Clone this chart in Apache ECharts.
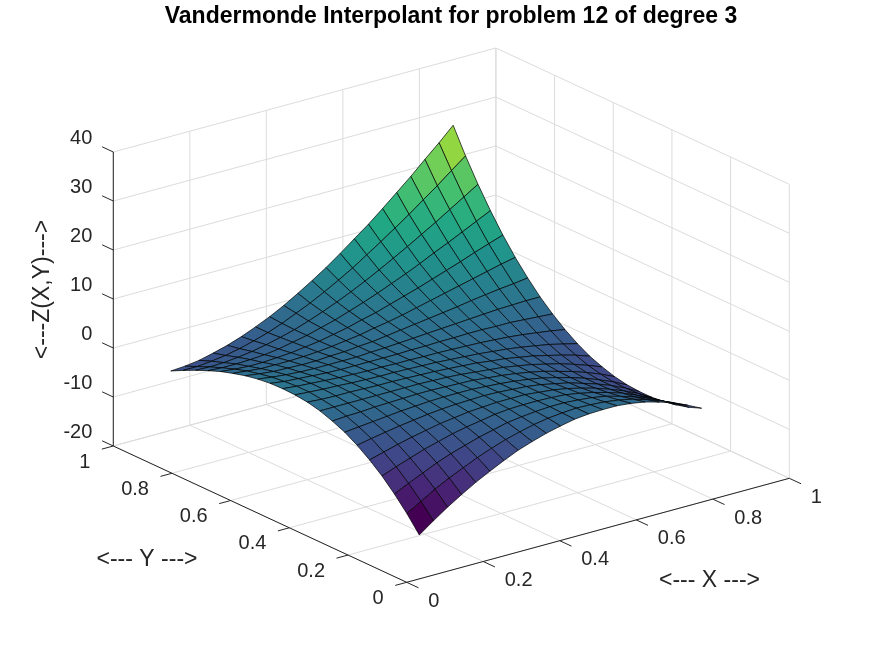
<!DOCTYPE html>
<html><head><meta charset="utf-8">
<style>html,body{margin:0;padding:0;background:#fff}#c{width:872px;height:654px}</style>
<script src="https://cdn.jsdelivr.net/npm/echarts@6/dist/echarts.min.js"></script></head>
<body><div id="c"></div>
<script>
const titleText = "Vandermonde Interpolant for problem 12 of degree 3";
const xValues = [0.0636,0.1005,0.1374,0.1743,0.2112,0.2481,0.285,0.3219,0.3588,0.3957,0.4326,0.4695,0.5064,0.5433,0.5802,0.6171,0.654,0.6909,0.7278,0.7647,0.8016];
const yValues = [0.04,0.0824,0.1247,0.1671,0.2094,0.2518,0.2941,0.3365,0.3788,0.4212,0.4635,0.5059,0.5482,0.5906,0.6329,0.6753,0.7176,0.76,0.8023,0.8447,0.887];
const xTicks = [0,0.2,0.4,0.6,0.8,1];
const yTicks = [0,0.2,0.4,0.6,0.8,1];
const zTicks = [-20,-10,0,10,20,30,40];
const viridis = ["#440154","#482475","#414487","#355f8d","#2a788e","#21918c","#22a884","#44bf70","#7ad151","#bddf26","#fde725"];
const zRows = [
[-12.8,-10.7,-8.7,-6.9,-5.2,-3.7,-2.3,-1.0,0.0,0.9,1.6,2.2,2.5,2.6,2.6,2.3,1.8,1.0,0.1,-1.2,-2.6],
[-9.6,-7.9,-6.2,-4.7,-3.4,-2.1,-1.0,0.0,0.8,1.5,2.0,2.3,2.5,2.4,2.2,1.8,1.2,0.3,-0.7,-2.0,-3.6],
[-6.8,-5.4,-4.1,-2.8,-1.7,-0.8,0.1,0.8,1.5,1.9,2.2,2.4,2.4,2.2,1.9,1.4,0.6,-0.3,-1.4,-2.7,-4.3],
[-4.3,-3.2,-2.2,-1.2,-0.4,0.4,1.0,1.5,2.0,2.3,2.4,2.4,2.3,2.1,1.6,1.0,0.2,-0.7,-1.9,-3.2,-4.8],
[-2.2,-1.4,-0.6,0.1,0.7,1.3,1.7,2.1,2.3,2.5,2.5,2.5,2.2,1.9,1.4,0.7,-0.1,-1.1,-2.2,-3.5,-5.1],
[-0.4,0.2,0.7,1.2,1.6,2.0,2.3,2.5,2.6,2.7,2.6,2.4,2.2,1.8,1.2,0.6,-0.3,-1.2,-2.3,-3.6,-5.1],
[1.1,1.4,1.7,2.0,2.3,2.5,2.7,2.8,2.8,2.8,2.6,2.4,2.1,1.7,1.2,0.5,-0.3,-1.2,-2.3,-3.5,-4.9],
[2.2,2.4,2.5,2.7,2.8,2.9,3.0,3.0,2.9,2.8,2.7,2.4,2.1,1.7,1.2,0.6,-0.2,-1.0,-2.0,-3.1,-4.4],
[3.1,3.1,3.1,3.1,3.1,3.1,3.1,3.1,3.0,2.9,2.7,2.4,2.1,1.8,1.3,0.8,0.1,-0.6,-1.5,-2.5,-3.6],
[3.7,3.5,3.4,3.4,3.3,3.2,3.2,3.1,3.0,2.9,2.7,2.5,2.3,1.9,1.6,1.1,0.6,-0.1,-0.8,-1.6,-2.6],
[4.0,3.8,3.6,3.5,3.3,3.2,3.1,3.1,3.0,2.9,2.8,2.6,2.4,2.2,1.9,1.6,1.2,0.7,0.2,-0.5,-1.2],
[4.1,3.8,3.6,3.4,3.2,3.1,3.0,3.0,2.9,2.9,2.8,2.8,2.7,2.6,2.5,2.3,2.1,1.8,1.4,1.0,0.5],
[4.0,3.6,3.4,3.2,3.0,2.9,2.9,2.9,2.9,2.9,3.0,3.0,3.1,3.1,3.2,3.2,3.1,3.1,2.9,2.7,2.5],
[3.7,3.3,3.0,2.8,2.7,2.7,2.7,2.7,2.9,3.0,3.2,3.4,3.6,3.8,4.0,4.2,4.4,4.6,4.7,4.8,4.8],
[3.2,2.8,2.5,2.4,2.3,2.3,2.5,2.6,2.9,3.1,3.5,3.9,4.3,4.7,5.1,5.5,6.0,6.4,6.8,7.1,7.5],
[2.5,2.2,1.9,1.9,1.9,2.0,2.2,2.5,2.9,3.3,3.9,4.4,5.0,5.7,6.4,7.1,7.8,8.5,9.2,9.9,10.5],
[1.7,1.4,1.2,1.2,1.4,1.6,2.0,2.4,3.0,3.6,4.4,5.1,6.0,6.9,7.8,8.8,9.8,10.8,11.9,12.9,13.9],
[0.7,0.5,0.5,0.6,0.8,1.2,1.8,2.4,3.2,4.0,5.0,6.0,7.1,8.3,9.5,10.8,12.2,13.5,14.9,16.3,17.7],
[-0.4,-0.5,-0.4,-0.1,0.3,0.9,1.6,2.4,3.4,4.5,5.7,7.0,8.4,9.9,11.5,13.1,14.8,16.5,18.3,20.1,21.9],
[-1.6,-1.6,-1.3,-0.9,-0.3,0.5,1.4,2.5,3.8,5.1,6.6,8.2,9.9,11.8,13.7,15.7,17.7,19.9,22.0,24.3,26.5],
[-2.9,-2.7,-2.3,-1.6,-0.8,0.2,1.4,2.7,4.2,5.9,7.7,9.6,11.7,13.9,16.1,18.5,21.0,23.5,26.2,28.8,31.6]
];

const zMin = Math.min(...zRows.flat()), zMax = Math.max(...zRows.flat());
const P = (x,y,z) => [406.7+382.6*x-293.4*y, 582.3-104*x-136.3*y-(z+20)*4.9];
function hex(c){return [1,3,5].map(k=>parseInt(c.substr(k,2),16));}
function colorOf(z){const t=(z-zMin)/(zMax-zMin)*(viridis.length-1);const k=Math.min(Math.floor(t),viridis.length-2);const f=t-k;
  const a=hex(viridis[k]),b=hex(viridis[k+1]);return `rgb(${a.map((v,n)=>Math.round(v+(b[n]-v)*f)).join(",")})`;}
const gridColor="#dcdcdc", axisColor="#262626", font="Liberation Sans, Arial, sans-serif";

const gridSegs=[];
xTicks.forEach(x=>{gridSegs.push([x,0,-20,x,1,-20]);gridSegs.push([x,1,-20,x,1,40]);});
yTicks.forEach(y=>{gridSegs.push([0,y,-20,1,y,-20]);gridSegs.push([1,y,-20,1,y,40]);});
zTicks.forEach(z=>{gridSegs.push([0,1,z,1,1,z]);gridSegs.push([1,1,z,1,0,z]);});
const axisSegs=[[0,0,-20,1,0,-20],[0,0,-20,0,1,-20],[0,1,-20,0,1,40]];
xTicks.forEach(x=>axisSegs.push([x,0,-20,x,-0.04,-20]));
yTicks.forEach(y=>axisSegs.push([0,y,-20,-0.03,y,-20]));
zTicks.forEach(z=>axisSegs.push([0,1,z,0,1.038,z]));

const lineSeries=(data,color,z)=>({type:"custom",coordinateSystem:"cartesian2d",silent:true,z,animation:false,clip:false,data,
  encode:{x:[],y:[]},
  renderItem:(p,api)=>{const s=data[p.dataIndex];const a=api.coord(P(s[0],s[1],s[2])),b=api.coord(P(s[3],s[4],s[5]));
    return {type:"line",shape:{x1:a[0],y1:a[1],x2:b[0],y2:b[1]},style:{stroke:color,lineWidth:1,fill:null}};}});

const cells=[];
for(let j=19;j>=0;j--)for(let i=19;i>=0;i--)cells.push([i,j]);
const surface={type:"custom",coordinateSystem:"cartesian2d",silent:true,z:3,animation:false,clip:false,data:cells,encode:{x:[],y:[]},
  renderItem:(p,api)=>{const [i,j]=cells[p.dataIndex];
    const pts=[[i,j],[i+1,j],[i+1,j+1],[i,j+1]].map(([a,b])=>api.coord(P(xValues[a],yValues[b],zRows[b][a])));
    return {type:"polygon",shape:{points:pts},style:{fill:colorOf(zRows[j][i]),stroke:"#000",lineWidth:0.7,lineJoin:"round"}};}};

const labels=[];
xTicks.forEach(x=>{const q=P(x,0,-20);labels.push({t:String(x),at:[q[0]+21.5,q[1]+19],al:"left"});});
yTicks.forEach(y=>{const q=P(0,y,-20);labels.push({t:String(y),at:[q[0]-23,q[1]+16],al:"right"});});
zTicks.forEach(z=>{const q=P(0,1,z);labels.push({t:String(z),at:[q[0]-21,q[1]-14],al:"right"});});
labels.push({t:"<--- X --->",at:[709.5,581],al:"center",fs:23});
labels.push({t:"<--- Y --->",at:[147,560],al:"center",fs:23});
labels.push({t:"<---Z(X,Y)--->",at:[42.5,289.5],al:"center",fs:23,rot:Math.PI/2});
const textSeries={type:"custom",coordinateSystem:"cartesian2d",silent:true,z:5,animation:false,clip:false,data:labels,encode:{x:[],y:[]},
  renderItem:(p,api)=>{const l=labels[p.dataIndex];const c=api.coord(l.at);
    return {type:"text",x:c[0],y:c[1],rotation:l.rot||0,style:{text:l.t,fill:axisColor,font:`${l.fs||20}px ${font}`,align:l.al,verticalAlign:"middle"}};}};

const chart=echarts.init(document.getElementById("c"),null,{renderer:"canvas"});
chart.setOption({animation:false,backgroundColor:"#fff",
  title:{text:titleText,left:451,top:5,padding:0,textAlign:"center",textStyle:{fontFamily:font,fontWeight:"bold",fontSize:23,color:"#000"}},
  grid:{left:0,right:0,top:0,bottom:0},
  xAxis:{type:"value",min:0,max:872,show:false},
  yAxis:{type:"value",min:0,max:654,inverse:true,show:false},
  series:[lineSeries(gridSegs,gridColor,1),surface,lineSeries(axisSegs,axisColor,4),textSeries]});
</script></body></html>
